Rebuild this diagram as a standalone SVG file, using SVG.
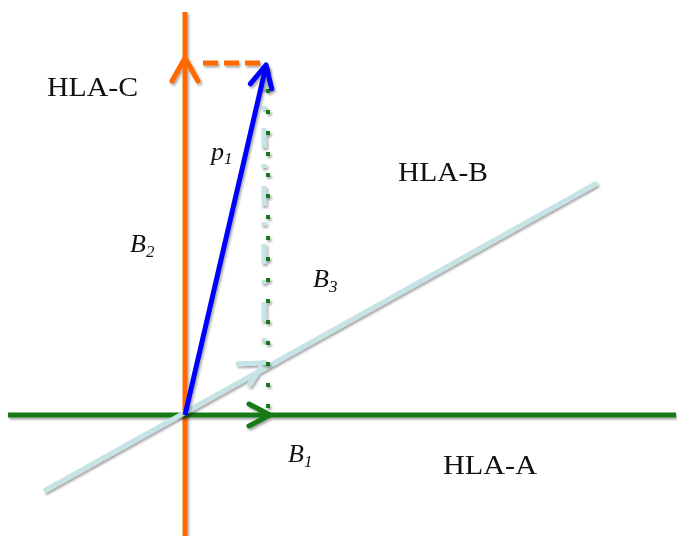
<svg xmlns="http://www.w3.org/2000/svg" width="677" height="536" viewBox="0 0 677 536">
<defs>
<filter id="sh" filterUnits="userSpaceOnUse" x="0" y="0" width="677" height="536">
<feDropShadow dx="1.5" dy="2" stdDeviation="1.2" flood-color="#000" flood-opacity="0.35"/>
</filter>
</defs>
<style>
.lbl{font-family:"Liberation Serif",serif;font-size:28px;fill:#111}
.it{font-family:"Liberation Serif",serif;font-style:italic;font-size:26px;fill:#111}
.sub{font-size:17px}
.chev{fill:none;stroke-linecap:round;stroke-linejoin:round}
</style>
<rect width="677" height="536" fill="#fff"/>
<g id="connectors">
<g id="hla-c-axis" filter="url(#sh)">
<line x1="185" y1="12" x2="185" y2="536" stroke="#ff6a00" stroke-width="5"/>
<path class="chev" d="M-23,-13 L0,0 L-23,13" transform="translate(185,58) rotate(-90)" stroke="#ff6a00" stroke-width="5"/>
</g>
<g id="hla-a-axis" filter="url(#sh)">
<line x1="8" y1="415" x2="676" y2="415" stroke="#137a13" stroke-width="5"/>
<path class="chev" d="M-21,-11 L0,0 L-21,11" transform="translate(270,415)" stroke="#137a13" stroke-width="5"/>
</g>
<g id="hla-b-axis" filter="url(#sh)">
<line x1="44" y1="491" x2="597" y2="183" stroke="#c6e4e6" stroke-width="5"/>
<path class="chev" d="M-23,-12 L0,0 L-23,12" transform="translate(264,363) rotate(-29.1)" stroke="#c6e4e6" stroke-width="5"/>
</g>
<g id="b3-proj" filter="url(#sh)">
<line x1="264" y1="70" x2="264" y2="365" stroke="#c6e4e6" stroke-width="5" stroke-dasharray="20 16 4 18"/>
</g>
<g id="b1-proj" filter="url(#sh)">
<line x1="268" y1="68" x2="268" y2="415" stroke="#137a13" stroke-width="4" stroke-dasharray="4 17"/>
</g>
<g id="b2-proj" filter="url(#sh)">
<line x1="203" y1="63" x2="264" y2="63" stroke="#ff6a00" stroke-width="5" stroke-dasharray="15 6"/>
</g>
<g id="p1-vector" filter="url(#sh)">
<line x1="185" y1="415" x2="266" y2="66" stroke="#0000ff" stroke-width="5"/>
<path class="chev" d="M-22,-11 L0,0 L-22,11" transform="translate(266,65) rotate(-76.9)" stroke="#0000ff" stroke-width="5"/>
</g>
</g>
<g id="label-hla-c"><text class="lbl" x="47" y="96" textLength="91" lengthAdjust="spacingAndGlyphs">HLA-C</text></g>
<g id="label-hla-b"><text class="lbl" x="398" y="181" textLength="90" lengthAdjust="spacingAndGlyphs">HLA-B</text></g>
<g id="label-hla-a"><text class="lbl" x="443" y="474" textLength="94" lengthAdjust="spacingAndGlyphs">HLA-A</text></g>
<g id="label-b2"><text class="it" x="130" y="252">B<tspan class="sub" dy="5">2</tspan></text></g>
<g id="label-p1"><text class="it" x="211" y="160">p<tspan class="sub" dy="4">1</tspan></text></g>
<g id="label-b3"><text class="it" x="313" y="287">B<tspan class="sub" dy="5">3</tspan></text></g>
<g id="label-b1"><text class="it" x="288" y="462">B<tspan class="sub" dy="5">1</tspan></text></g>
</svg>
